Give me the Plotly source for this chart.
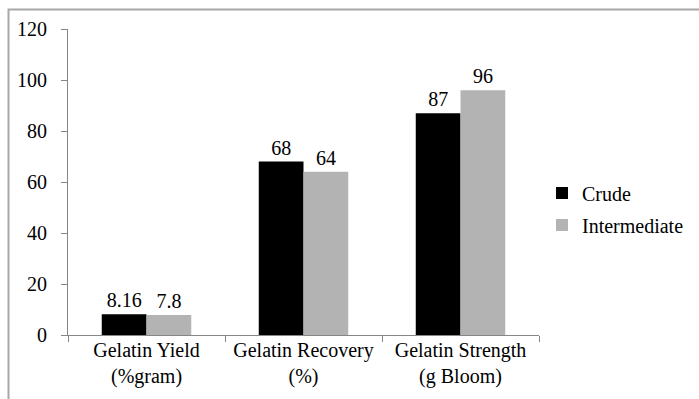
import plotly.graph_objects as go

categories = ["Gelatin Yield<br>(%gram)", "Gelatin Recovery<br>(%)", "Gelatin Strength<br>(g Bloom)"]
crude = [8.16, 68, 87]
intermediate = [7.8, 64, 96]
crude_labels = ["8.16", "68", "87"]
intermediate_labels = ["7.8", "64", "96"]
y_ticks = [0, 20, 40, 60, 80, 100, 120]

FONT = "Liberation Serif"
FS = 20
W, H = 699, 399
ML, MR, MT, MB = 68, 160, 29, 64
pw = W - ML - MR
ph = H - MT - MB

fig = go.Figure()
fig.add_trace(go.Bar(
    name="Crude", x=categories, y=crude, text=crude_labels,
    textposition="outside", marker=dict(color="#000000", line=dict(width=0)),
    legendgroup="a", cliponaxis=False,
    textfont=dict(family=FONT, size=FS, color="#000000"),
))
fig.add_trace(go.Bar(
    name="Intermediate", x=categories, y=intermediate, text=intermediate_labels,
    textposition="outside", marker=dict(color="#b3b3b3", line=dict(width=0)),
    legendgroup="b", cliponaxis=False,
    textfont=dict(family=FONT, size=FS, color="#000000"),
))

fig.update_layout(
    width=W, height=H,
    margin=dict(l=ML, r=MR, t=MT, b=MB, autoexpand=False),
    paper_bgcolor="white", plot_bgcolor="white",
    barmode="group", bargap=0.43, bargroupgap=0,
    font=dict(family=FONT, size=FS, color="#000000"),
    showlegend=True,
    legend=dict(
        x=(542 - ML) / pw, xanchor="left",
        y=(MT + ph - 209) / ph, yanchor="middle",
        traceorder="grouped", tracegroupgap=3,
        font=dict(family=FONT, size=FS, color="#000000"),
        bgcolor="rgba(0,0,0,0)", itemsizing="constant",
    ),
    xaxis=dict(
        showline=True, linecolor="#868686", linewidth=1,
        ticks="outside", ticklen=6, tickcolor="#868686", tickson="boundaries",
        showgrid=False, zeroline=False, automargin=False,
        ticklabelstandoff=-3,
        tickfont=dict(family=FONT, size=FS, color="#000000"),
    ),
    yaxis=dict(
        range=[0, 120], tickvals=y_ticks,
        showline=True, linecolor="#868686", linewidth=1,
        ticks="outside", ticklen=6, tickcolor="#868686",
        showgrid=False, zeroline=False, automargin=False,
        ticklabelstandoff=10,
        tickfont=dict(family=FONT, size=FS, color="#000000"),
    ),
    shapes=[dict(
        type="rect", xref="paper", yref="paper",
        x0=(8.5 - ML) / pw, x1=2.0,
        y0=-1.0, y1=(MT + ph - 9.5) / ph,
        line=dict(color="#a8a8a8", width=2), fillcolor="rgba(0,0,0,0)",
        layer="below",
    )],
)

fig.write_html("out.html")
